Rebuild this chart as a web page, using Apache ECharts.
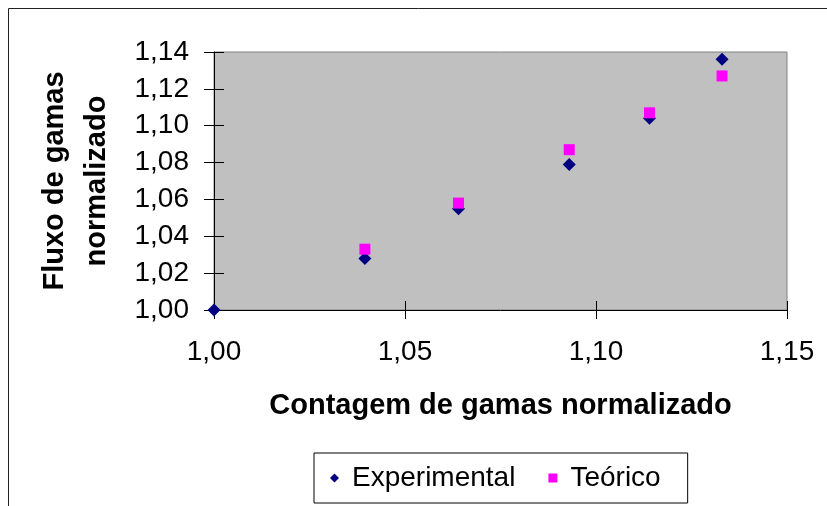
<!DOCTYPE html>
<html>
<head>
<meta charset="utf-8">
<script src="https://cdn.jsdelivr.net/npm/echarts@6/dist/echarts.min.js"></script>
<style>
  html, body { margin: 0; padding: 0; background: #fff; }
  #chart { width: 827px; height: 506px; }
</style>
</head>
<body>
<div id="chart"></div>
<script>
// Normalised gamma counts (x) against normalised gamma flux (y)
const expX = [1.000, 1.0395, 1.064, 1.093, 1.114, 1.133];
const expY = [1.000, 1.028, 1.055, 1.079, 1.104, 1.136];
const teoX = [1.0395, 1.064, 1.093, 1.114, 1.133];
const teoY = [1.033, 1.058, 1.087, 1.107, 1.127];

const seriesNames = ['Experimental', 'Teórico'];
const xTitle = 'Contagem de gamas normalizado';
const yTitle = 'Fluxo de gamas\nnormalizado';

const xMin = 1.00, xMax = 1.15, xStep = 0.05;
const yMin = 1.00, yMax = 1.14, yStep = 0.02;

const FONT = "'Liberation Sans', Arial, sans-serif";
const fmt = v => v.toFixed(2).replace('.', ',');

const pairs = (xs, ys) => xs.map((x, i) => [x, ys[i]]);

const chart = echarts.init(document.getElementById('chart'), null, { renderer: 'canvas' });

const option = {
  backgroundColor: '#ffffff',
  animation: false,
  textStyle: { fontFamily: FONT, color: '#000' },
  grid: {
    left: 214, top: 52, right: 40, bottom: 196,
    show: true,
    backgroundColor: '#c0c0c0',
    borderColor: '#808080',
    borderWidth: 1
  },
  graphic: [{
    type: 'rect',
    silent: true,
    z: 0,
    shape: { x: 8.5, y: 8.5, width: 840, height: 520 },
    style: { fill: 'none', stroke: '#222', lineWidth: 1 }
  }],
  legend: {
    left: 314, top: 453,
    padding: [10, 27, 10, 16],
    borderColor: '#000', borderWidth: 1,
    itemWidth: 9, itemHeight: 9, itemGap: 33,
    textStyle: { fontFamily: FONT, fontSize: 28, color: '#000', lineHeight: 30, padding: [0, 0, 0, 8] },
    data: [
      { name: seriesNames[0], icon: 'diamond' },
      { name: seriesNames[1], icon: 'rect' }
    ]
  },
  xAxis: [{
    type: 'value', min: xMin, max: xMax, interval: xStep,
    name: xTitle, nameLocation: 'middle', nameGap: 81,
    nameTextStyle: { fontFamily: FONT, fontSize: 29, fontWeight: 'bold', color: '#000' },
    axisLine: { show: true, onZero: false, lineStyle: { color: '#000', width: 1 } },
    axisTick: { show: true, length: 9, lineStyle: { color: '#000' } },
    axisLabel: { fontFamily: FONT, fontSize: 28, color: '#000', margin: 28, formatter: fmt },
    splitLine: { show: false }
  }, {
    // inner half of the crossing tick marks
    type: 'value', min: xMin, max: xMax, interval: xStep, position: 'bottom',
    axisLine: { show: false },
    axisTick: { show: true, inside: true, length: 9, lineStyle: { color: '#000' } },
    axisLabel: { show: false },
    splitLine: { show: false }
  }],
  yAxis: [{
    type: 'value', min: yMin, max: yMax, interval: yStep,
    name: yTitle, nameLocation: 'middle', nameGap: 96,
    nameTextStyle: { fontFamily: FONT, fontSize: 29, fontWeight: 'bold', color: '#000', lineHeight: 42 },
    axisLine: { show: true, onZero: false, lineStyle: { color: '#000', width: 1 } },
    axisTick: { show: true, length: 10, lineStyle: { color: '#000' } },
    axisLabel: { fontFamily: FONT, fontSize: 28, color: '#000', margin: 25, formatter: fmt },
    splitLine: { show: false }
  }, {
    type: 'value', min: yMin, max: yMax, interval: yStep, position: 'left',
    axisLine: { show: false },
    axisTick: { show: true, inside: true, length: 10, lineStyle: { color: '#000' } },
    axisLabel: { show: false },
    splitLine: { show: false }
  }],
  series: [{
    name: seriesNames[0],
    type: 'scatter',
    xAxisIndex: 0, yAxisIndex: 0,
    symbol: 'diamond',
    symbolSize: 13,
    itemStyle: { color: '#000080', opacity: 1 },
    data: pairs(expX, expY)
  }, {
    name: seriesNames[1],
    type: 'scatter',
    xAxisIndex: 0, yAxisIndex: 0,
    symbol: 'rect',
    symbolSize: 11,
    itemStyle: { color: '#ff00ff', opacity: 1 },
    data: pairs(teoX, teoY)
  }]
};

chart.setOption(option);
</script>
</body>
</html>
